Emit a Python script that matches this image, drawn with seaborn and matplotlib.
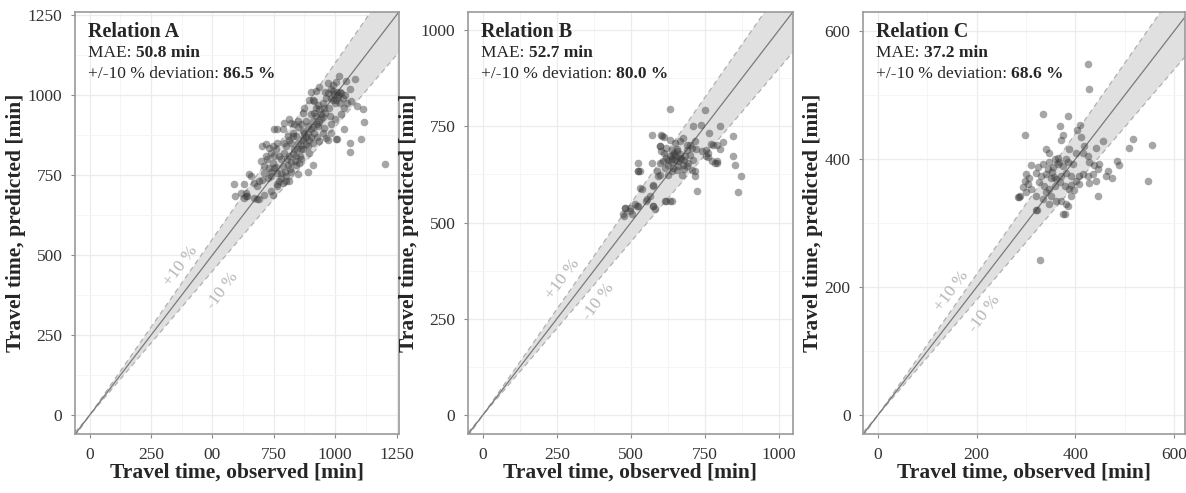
import matplotlib
matplotlib.use("Agg")
import matplotlib.pyplot as plt
import numpy as np
import pandas as pd
import seaborn as sns


# ---- Relation A: observed / predicted travel times [min]
obs_a = [628, 635, 642, 656, 669, 683, 690, 704, 710, 710, 724, 731, 738, 745, 751,
         758, 765, 772, 779, 786, 792, 799, 806, 813, 820, 827, 833, 840, 847, 854,
         861, 867, 874, 881, 888, 895, 902, 908, 915, 922, 929, 936, 943, 949, 956,
         963, 970, 984, 990, 704, 717, 731, 745, 751, 765, 786, 792, 813, 820, 833,
         847, 861, 867, 874, 895, 908, 915, 922, 867, 840, 806, 765, 738, 717, 697,
         751, 779, 799, 813, 786, 765, 745, 710, 669, 628, 908, 888, 847, 895, 936,
         963, 1004, 956, 984, 977, 943, 915, 922, 936, 902, 970, 1014, 1045, 1079, 1059,
         997, 1011, 1024, 984, 1004, 1018, 1031, 1008, 990, 1066, 1090, 1113, 1117, 1038, 1008,
         1104, 1059, 1059, 1205, 587, 615, 594, 635, 683, 649, 690, 738, 765, 805,
         820, 830, 845, 860, 870, 880, 890, 900, 910, 925, 935, 950, 960, 975, 1000,
         1010, 1020, 990, 1005, 870, 855, 835, 815, 795, 780, 760, 740, 725, 770,
         790, 810, 830, 850, 880, 900, 930, 960, 1040, 1050, 1035, 1025, 1000, 985, 970,
         950, 925, 910, 890, 860, 840, 820, 800]
pred_a = [721, 695, 684, 747, 726, 715, 674, 736, 757, 778, 799, 773, 747, 788, 809,
          830, 757, 731, 799, 778, 820, 840, 783, 809, 851, 872, 830, 809, 851, 788,
          830, 867, 882, 846, 903, 861, 893, 919, 882, 934, 903, 955, 940, 976, 960,
          992, 1007, 1018, 986, 840, 846, 835, 840, 893, 893, 893, 913, 924, 913, 908,
          919, 908, 945, 960, 986, 986, 981, 960, 887, 872, 872, 851, 820, 809, 794,
          773, 757, 747, 731, 726, 721, 689, 689, 679, 679, 783, 759, 752, 820, 856,
          867, 863, 898, 908, 934, 924, 945, 1012, 1026, 1009, 1039, 1059, 1044, 1051, 1018,
          1002, 995, 1005, 992, 986, 976, 990, 1009, 1012, 981, 966, 955, 917, 893, 863,
          863, 849, 822, 785, 721, 695, 684, 684, 674, 752, 731, 700, 716, 800,
          790, 815, 830, 845, 860, 870, 880, 870, 900, 910, 915, 930, 945, 960, 975,
          1000, 1010, 1030, 1040, 830, 810, 795, 770, 760, 740, 775, 760, 740, 810,
          850, 860, 880, 900, 920, 940, 970, 1010, 1000, 975, 960, 940, 925, 880, 860,
          880, 870, 850, 840, 800, 780, 760, 730]

# ---- Relation B
obs_b = [632, 750, 711, 735, 765, 810, 776, 753, 761, 755, 789, 784, 603, 611, 632,
         649, 665, 677, 688, 705, 716, 598, 603, 620, 637, 654, 643, 632, 620, 609,
         598, 649, 665, 682, 699, 711, 694, 677, 660, 643, 626, 615, 570, 587, 598,
         592, 525, 530, 626, 637, 654, 671, 688, 705, 716, 716, 722, 575, 536, 564,
         551, 620, 637, 513, 525, 497, 480, 474, 502, 575, 581, 792, 846, 846, 851,
         871, 862, 480, 476, 497, 519, 530, 553, 575, 575, 615, 632, 598, 604, 525,
         570, 525, 640, 650, 660, 670, 645, 655, 665, 635, 625, 680, 690, 610, 700,
         720, 740, 760, 775, 790, 800, 770, 800, 680]
pred_b = [795, 793, 750, 754, 732, 709, 700, 689, 681, 672, 659, 655, 728, 721, 715,
          706, 712, 719, 702, 693, 711, 698, 685, 693, 689, 685, 676, 672, 668, 659,
          655, 663, 668, 672, 676, 663, 655, 650, 646, 642, 650, 642, 655, 633, 624,
          620, 635, 633, 624, 633, 637, 624, 646, 637, 633, 620, 581, 598, 588, 568,
          557, 555, 555, 547, 542, 538, 538, 521, 521, 542, 534, 655, 724, 672, 650,
          620, 579, 538, 516, 529, 542, 590, 560, 542, 594, 555, 555, 698, 724, 633,
          728, 655, 665, 672, 660, 665, 680, 690, 678, 658, 662, 662, 688, 680, 700,
          690, 685, 670, 660, 700, 690, 705, 750, 640]

# ---- Relation C
obs_c = [425, 428, 334, 384, 297, 368, 403, 410, 374, 371, 411, 455, 516, 508, 555,
         546, 445, 381, 388, 401, 341, 347, 418, 425, 415, 442, 428, 438, 448, 445,
         485, 489, 465, 462, 475, 415, 425, 435, 401, 408, 311, 324, 334, 347, 358,
         364, 300, 307, 297, 304, 294, 287, 284, 300, 311, 321, 331, 341, 351, 361,
         371, 381, 391, 327, 337, 347, 358, 368, 378, 388, 341, 351, 361, 347, 334,
         321, 371, 381, 384, 374, 378, 321, 408, 398, 391, 428, 442, 354, 364, 374,
         384, 395, 322, 329, 285, 352, 366, 392, 356, 344]
pred_c = [549, 509, 471, 468, 437, 452, 445, 453, 437, 430, 435, 429, 431, 418, 422,
          366, 343, 400, 415, 410, 415, 410, 421, 405, 410, 418, 395, 390, 392, 384,
          397, 391, 382, 374, 371, 377, 374, 377, 366, 374, 391, 387, 392, 395, 400,
          402, 376, 371, 366, 361, 356, 343, 340, 348, 353, 379, 374, 377, 371, 369,
          374, 379, 374, 364, 358, 353, 358, 364, 358, 353, 348, 343, 335, 330, 338,
          343, 335, 330, 327, 314, 314, 320, 361, 351, 343, 363, 366, 387, 392, 389,
          395, 392, 320, 243, 340, 380, 395, 360, 372, 384]

titles = ["Relation A", "Relation B", "Relation C"]
mae = ["50.8 min", "52.7 min", "37.2 min"]
dev = ["86.5 %", "80.0 %", "68.6 %"]
ticks = [[0, 250, 500, 750, 1000, 1250], [0, 250, 500, 750, 1000], [0, 200, 400, 600]]
xtick_labels = [["0", "250", "00", "750", "1000", "1250"],
                ["0", "250", "500", "750", "1000"],
                ["0", "200", "400", "600"]]
xlims = [(-60, 1260), (-50, 1047), (-30, 622)]
ylims = [(-60, 1260), (-50, 1047), (-30, 630)]
# position of the +/-10 % labels (data coords)
lab_plus = [(369, 466), (270, 352), (150, 193)]
lab_minus = [(541, 388), (389, 293), (216, 159)]

sns.set_theme(style="white")
plt.rcParams["font.family"] = ["Liberation Serif", "DejaVu Serif"]

fig = plt.figure(figsize=(11.86, 4.93), dpi=100)
positions = [[0.0632, 0.119, 0.2732, 0.857],
             [0.3946, 0.119, 0.2740, 0.857],
             [0.7277, 0.119, 0.2715, 0.857]]

data = [(obs_a, pred_a), (obs_b, pred_b), (obs_c, pred_c)]

for i, (obs, pred) in enumerate(data):
    ax = fig.add_axes(positions[i])
    df = pd.DataFrame({"observed": obs, "predicted": pred})
    lo, hi = xlims[i]
    line_x = np.array([lo, hi * 1.3])

    ax.fill_between(line_x, 0.9 * line_x, 1.1 * line_x, color="#e0e0e0", lw=0, zorder=1)
    ax.plot(line_x, 0.9 * line_x, color="#b0b0b0", lw=0.9, ls=(0, (4, 3)), zorder=2)
    ax.plot(line_x, 1.1 * line_x, color="#b0b0b0", lw=0.9, ls=(0, (4, 3)), zorder=2)
    ax.plot(line_x, line_x, color="#7a7a7a", lw=0.9, zorder=2)

    sns.scatterplot(data=df, x="observed", y="predicted", ax=ax, color="#3a3a3a",
                    alpha=0.45, s=30, linewidth=0, zorder=3)

    ax.set_xticks(ticks[i])
    ax.set_xticklabels(xtick_labels[i])
    ax.set_yticks(ticks[i])
    step = ticks[i][1] - ticks[i][0]
    minors = [t + step / 2 for t in ticks[i]]
    ax.set_xticks(minors, minor=True)
    ax.set_yticks(minors, minor=True)
    ax.set_xlim(xlims[i])
    ax.set_ylim(ylims[i])
    ax.grid(True, which="major", color="#ececec", lw=0.9, zorder=0)
    ax.grid(True, which="minor", color="#f4f4f4", lw=0.6, zorder=0)
    ax.set_axisbelow(True)
    ax.tick_params(which="major", direction="out", length=3, width=0.8,
                   color="#8a8a8a", labelsize=12.5, labelcolor="#333333", pad=6,
                   bottom=True, left=True)
    ax.tick_params(which="minor", length=0)
    for sp in ax.spines.values():
        sp.set_color("#9a9a9a")
        sp.set_linewidth(1.2)

    ax.set_xlabel("Travel time, observed [min]", fontsize=15.5, fontweight="bold",
                  labelpad=0)
    ax.set_ylabel("Travel time, predicted [min]", fontsize=15.5, fontweight="bold",
                  labelpad=1)

    ax.text(0.04, 0.941, titles[i], transform=ax.transAxes, fontsize=14.5,
            fontweight="bold", va="baseline", ha="left")
    t1 = ax.text(0.04, 0.893, "MAE: ", transform=ax.transAxes, fontsize=12.5,
                 va="baseline", ha="left")
    ax.annotate(mae[i], xy=(1, 0), xycoords=t1, fontsize=12.5, fontweight="bold",
                va="bottom", ha="left")
    t2 = ax.text(0.04, 0.843, "+/-10 % deviation: ", transform=ax.transAxes,
                 fontsize=12.5, va="baseline", ha="left")
    ax.annotate(dev[i], xy=(1, 0), xycoords=t2, fontsize=12.5, fontweight="bold",
                va="bottom", ha="left")

    ax.text(*lab_plus[i], "+10 %", rotation=53, color="#b5b5b5", fontsize=12.5,
            ha="center", va="center", rotation_mode="anchor", zorder=4)
    ax.text(*lab_minus[i], "-10 %", rotation=53, color="#b5b5b5", fontsize=12.5,
            ha="center", va="center", rotation_mode="anchor", zorder=4)

fig.savefig("out.png", dpi=100)
